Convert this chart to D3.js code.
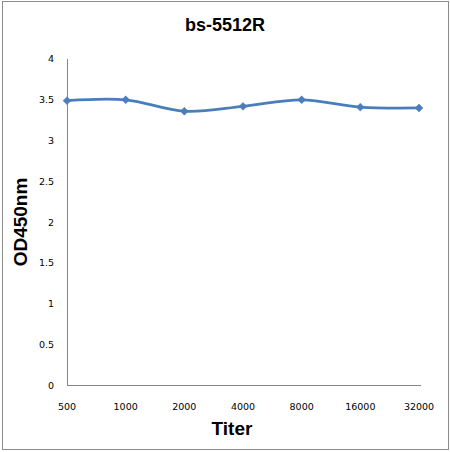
<!DOCTYPE html>
<html>
<head>
<meta charset="utf-8">
<script src="https://cdn.jsdelivr.net/npm/d3@7"></script>
<style>
  body { margin: 0; background: #fff; }
  svg { display: block; }
</style>
</head>
<body>
<script>
// data
const titers = ["500", "1000", "2000", "4000", "8000", "16000", "32000"];
const od450 = [3.49, 3.50, 3.36, 3.42, 3.50, 3.41, 3.40];
const yTicks = [0, 0.5, 1, 1.5, 2, 2.5, 3, 3.5, 4];

const width = 450;
const height = 452;

const svg = d3
  .select("body")
  .append("svg")
  .attr("width", width)
  .attr("height", height);

// outer frame of the chart
svg
  .append("rect")
  .attr("x", 2.5)
  .attr("y", 1.5)
  .attr("width", 446)
  .attr("height", 448)
  .attr("fill", "#fff")
  .attr("stroke", "#8c8c8c")
  .attr("stroke-width", 1);

const xScale = d3.scalePoint().domain(titers).range([67, 419]);
const yScale = d3.scaleLinear().domain([0, 4]).range([385.5, 59]);

const tickFont = "'DejaVu Sans', Tahoma, sans-serif";
const boldFont = "'Liberation Sans', Arial, sans-serif";

// axis lines
svg
  .append("line")
  .attr("x1", 67.5)
  .attr("x2", 67.5)
  .attr("y1", yScale(4))
  .attr("y2", yScale(0))
  .attr("stroke", "#868686");

svg
  .append("line")
  .attr("x1", 67)
  .attr("x2", 421)
  .attr("y1", yScale(0))
  .attr("y2", yScale(0))
  .attr("stroke", "#868686");

// y tick labels
svg
  .append("g")
  .selectAll("text")
  .data(yTicks)
  .join("text")
  .attr("x", 54)
  .attr("y", (d) => yScale(d))
  .attr("dy", "0.35em")
  .attr("text-anchor", "end")
  .attr("font-family", tickFont)
  .attr("font-size", "9.5px")
  .attr("fill", "#000")
  .text((d) => d);

// x tick labels
svg
  .append("g")
  .selectAll("text")
  .data(titers)
  .join("text")
  .attr("x", (d) => xScale(d))
  .attr("y", 409.5)
  .attr("text-anchor", "middle")
  .attr("font-family", tickFont)
  .attr("font-size", "9.5px")
  .attr("fill", "#000")
  .text((d) => d);

// smoothed line
const line = d3
  .line()
  .x((d, i) => xScale(titers[i]))
  .y((d) => yScale(d))
  .curve(d3.curveCatmullRom.alpha(0.5));

svg
  .append("path")
  .datum(od450)
  .attr("d", line)
  .attr("fill", "none")
  .attr("stroke", "#4a7ebb")
  .attr("stroke-width", 2.75)
  .attr("stroke-linejoin", "round");

// diamond markers
svg
  .append("g")
  .selectAll("path")
  .data(od450)
  .join("path")
  .attr("transform", (d, i) => `translate(${xScale(titers[i])},${yScale(d)})`)
  .attr("d", d3.symbol().type(d3.symbolDiamond2).size(40))
  .attr("fill", "#4a7ebb")
  .attr("stroke", "#4a7ebb")
  .attr("stroke-width", 0.5);

// titles
svg
  .append("text")
  .attr("x", 225)
  .attr("y", 31)
  .attr("text-anchor", "middle")
  .attr("font-family", boldFont)
  .attr("font-weight", "bold")
  .attr("font-size", "18px")
  .text("bs-5512R");

svg
  .append("text")
  .attr("x", 232)
  .attr("y", 435)
  .attr("text-anchor", "middle")
  .attr("font-family", boldFont)
  .attr("font-weight", "bold")
  .attr("font-size", "19px")
  .text("Titer");

svg
  .append("text")
  .attr("transform", "translate(27,222) rotate(-90)")
  .attr("text-anchor", "middle")
  .attr("font-family", boldFont)
  .attr("font-weight", "bold")
  .attr("font-size", "19px")
  .text("OD450nm");
</script>
</body>
</html>
